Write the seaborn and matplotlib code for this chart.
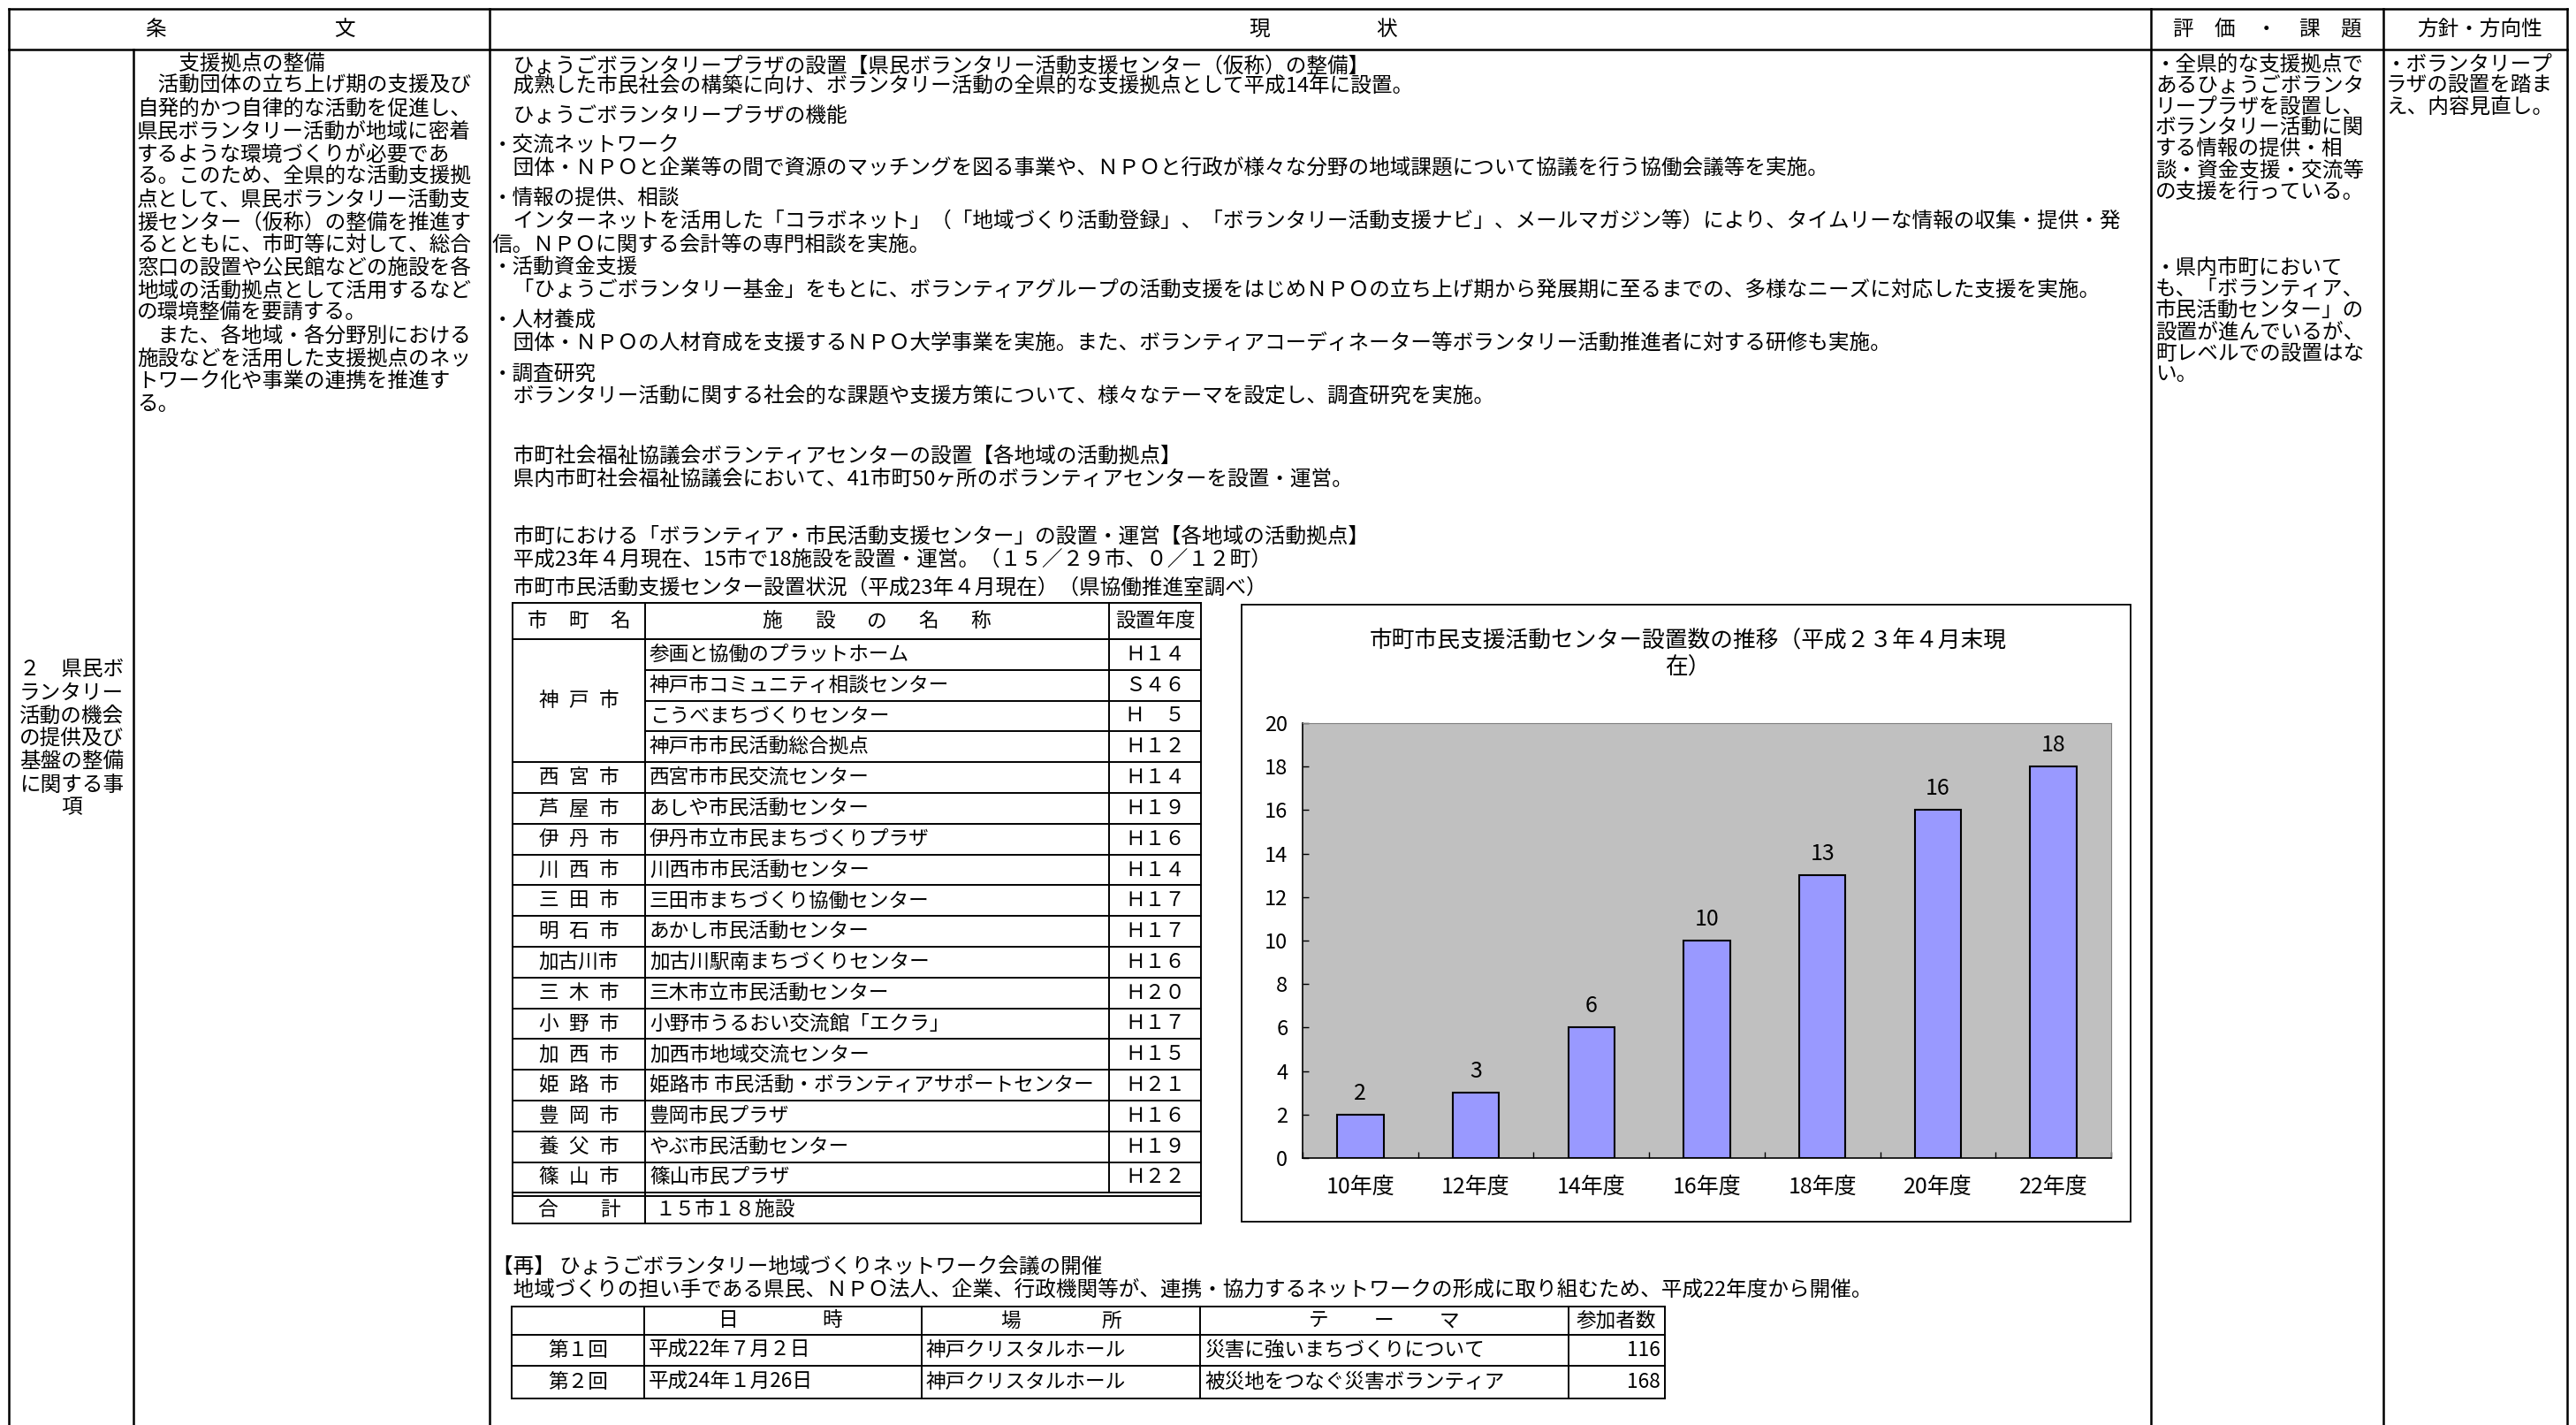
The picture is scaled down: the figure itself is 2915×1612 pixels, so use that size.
import numpy as np
import matplotlib
matplotlib.use('Agg')
import matplotlib.pyplot as plt
from matplotlib.patches import Rectangle
import seaborn as sns

plt.rcParams['font.family'] = ['Noto Sans CJK JP', 'DejaVu Sans']

W, H = 2915, 1612
FS = 17      # body text
FS_T = 16.3  # table text

# --- chart data ---
chart_years = ['10年度', '12年度', '14年度', '16年度', '18年度', '20年度', '22年度']
chart_counts = [2, 3, 6, 10, 13, 16, 18]
chart_title = ['市町市民支援活動センター設置数の推移（平成２３年４月末現', '在）']

# --- facility table ---
city_names = ['神戸市', '神戸市', '神戸市', '神戸市', '西宮市', '芦屋市', '伊丹市', '川西市', '三田市',
              '明石市', '加古川市', '三木市', '小野市', '加西市', '姫路市', '豊岡市', '養父市', '篠山市']
facility_names = ['参画と協働のプラットホーム', '神戸市コミュニティ相談センター', 'こうべまちづくりセンター',
                  '神戸市市民活動総合拠点', '西宮市市民交流センター', 'あしや市民活動センター',
                  '伊丹市立市民まちづくりプラザ', '川西市市民活動センター', '三田市まちづくり協働センター',
                  'あかし市民活動センター', '加古川駅南まちづくりセンター', '三木市立市民活動センター',
                  '小野市うるおい交流館「エクラ」', '加西市地域交流センター',
                  '姫路市 市民活動・ボランティアサポートセンター', '豊岡市民プラザ', 'やぶ市民活動センター',
                  '篠山市民プラザ']
setup_years = ['Ｈ１４', 'Ｓ４６', 'Ｈ　５', 'Ｈ１２', 'Ｈ１４', 'Ｈ１９', 'Ｈ１６', 'Ｈ１４', 'Ｈ１７',
               'Ｈ１７', 'Ｈ１６', 'Ｈ２０', 'Ｈ１７', 'Ｈ１５', 'Ｈ２１', 'Ｈ１６', 'Ｈ１９', 'Ｈ２２']
total_text = '１５市１８施設'

# --- meeting table ---
meeting_no = ['第１回', '第２回']
meeting_date = ['平成22年７月２日', '平成24年１月26日']
meeting_place = ['神戸クリスタルホール', '神戸クリスタルホール']
meeting_theme = ['災害に強いまちづくりについて', '被災地をつなぐ災害ボランティア']
meeting_people = [116, 168]

# --- document text ---
item_lines = ['２　県民ボ', 'ランタリー', '活動の機会', 'の提供及び', '基盤の整備', 'に関する事', '項']
article_lines = ['　　支援拠点の整備', '　活動団体の立ち上げ期の支援及び', '自発的かつ自律的な活動を促進し、',
                 '県民ボランタリー活動が地域に密着', 'するような環境づくりが必要であ',
                 'る。このため、全県的な活動支援拠', '点として、県民ボランタリー活動支',
                 '援センター（仮称）の整備を推進す', 'るとともに、市町等に対して、総合',
                 '窓口の設置や公民館などの施設を各', '地域の活動拠点として活用するなど',
                 'の環境整備を要請する。', '　また、各地域・各分野別における',
                 '施設などを活用した支援拠点のネッ', 'トワーク化や事業の連携を推進す', 'る。']
status_lines = [
    (75, '　ひょうごボランタリープラザの設置【県民ボランタリー活動支援センター（仮称）の整備】'),
    (97, '　成熟した市民社会の構築に向け、ボランタリー活動の全県的な支援拠点として平成14年に設置。'),
    (132, '　ひょうごボランタリープラザの機能'),
    (165, '・交流ネットワーク'),
    (190, '　団体・ＮＰＯと企業等の間で資源のマッチングを図る事業や、ＮＰＯと行政が様々な分野の地域課題について協議を行う協働会議等を実施。'),
    (225, '・情報の提供、相談'),
    (250, '　インターネットを活用した「コラボネット」（「地域づくり活動登録」、「ボランタリー活動支援ナビ」、メールマガジン等）により、タイムリーな情報の収集・提供・発'),
    (277, '信。ＮＰＯに関する会計等の専門相談を実施。'),
    (302, '・活動資金支援'),
    (328, '　「ひょうごボランタリー基金」をもとに、ボランティアグループの活動支援をはじめＮＰＯの立ち上げ期から発展期に至るまでの、多様なニーズに対応した支援を実施。'),
    (363, '・人材養成'),
    (388, '　団体・ＮＰＯの人材育成を支援するＮＰＯ大学事業を実施。また、ボランティアコーディネーター等ボランタリー活動推進者に対する研修も実施。'),
    (423, '・調査研究'),
    (448, '　ボランタリー活動に関する社会的な課題や支援方策について、様々なテーマを設定し、調査研究を実施。'),
    (516, '　市町社会福祉協議会ボランティアセンターの設置【各地域の活動拠点】'),
    (542, '　県内市町社会福祉協議会において、41市町50ヶ所のボランティアセンターを設置・運営。'),
    (607, '　市町における「ボランティア・市民活動支援センター」の設置・運営【各地域の活動拠点】'),
    (633, '　平成23年４月現在、15市で18施設を設置・運営。（１５／２９市、０／１２町）'),
    (665, '　市町市民活動支援センター設置状況（平成23年４月現在）（県協働推進室調べ）'),
    (1433, '【再】 ひょうごボランタリー地域づくりネットワーク会議の開催'),
    (1459, '　地域づくりの担い手である県民、ＮＰＯ法人、企業、行政機関等が、連携・協力するネットワークの形成に取り組むため、平成22年度から開催。'),
]
eval_block1 = ['・全県的な支援拠点で', 'あるひょうごボランタ', 'リープラザを設置し、', 'ボランタリー活動に関',
               'する情報の提供・相', '談・資金支援・交流等', 'の支援を行っている。']
eval_block2 = ['・県内市町において', 'も、「ボランティア、', '市民活動センター」の', '設置が進んでいるが、',
               '町レベルでの設置はな', 'い。']
policy_lines = ['・ボランタリープ', 'ラザの設置を踏ま', 'え、内容見直し。']

fig = plt.figure(figsize=(W / 100, H / 100), dpi=100)
doc = fig.add_axes([0, 0, 1, 1])
doc.set_xlim(0, W)
doc.set_ylim(H, 0)
doc.axis('off')


def line(x0, y0, x1, y1, lw=1.8):
    doc.plot([x0, x1], [y0, y1], color='black', lw=lw, solid_capstyle='projecting')


def txt(x, y, s, size=FS, ha='left'):
    doc.text(x, y, s, fontsize=size, ha=ha, va='center', color='black')


def spaced(chars, xc, y, pitch, size=FS):
    n = len(chars)
    for i, c in enumerate(chars):
        txt(xc + (i - (n - 1) / 2) * pitch, y, c, size, ha='center')


# outer frame
XL, XC1, XC2, XC3, XC4, XR = 10, 151, 554, 2434, 2697, 2905
YT, YH = 10, 56
line(XL, YT, XR, YT)
line(XL, YH, XR, YH)
for x in [XL, XC2, XC3, XC4, XR]:
    line(x, YT, x, H + 5)
line(XC1, YH, XC1, H + 5)

# headers
spaced(['条', '文'], 283, 33, 214)
spaced(['現', '状'], 1497, 33, 144)
spaced(['評', '価', '・', '課', '題'], 2565, 33, 47.5)
txt(2806, 33, '方針・方向性', ha='center')

# left columns
for i, s in enumerate(item_lines):
    txt(81, 758 + 26 * i, s, ha='center')
for i, s in enumerate(article_lines):
    txt(155, 72 + 25.7 * i, s)

# status column
for y, s in status_lines:
    txt(557, y, s)

# evaluation / policy columns
for i, s in enumerate(eval_block1):
    txt(2439, 73 + 24 * i, s)
for i, s in enumerate(eval_block2):
    txt(2439, 304 + 24 * i, s)
for i, s in enumerate(policy_lines):
    txt(2700, 73 + 24 * i, s)

# facility table
TX = [580, 730, 1255, 1359]
TY0, TYH, RH = 682, 723, 34.8
n_rows = len(facility_names)
TYE = TYH + RH * n_rows
TYB = 1384
TLW = 1.4
line(TX[0], TY0, TX[3], TY0, TLW)
line(TX[0], TYH, TX[3], TYH, TLW)
line(TX[0], TYE, TX[3], TYE, TLW)
line(TX[0], TYE + 4, TX[3], TYE + 4, TLW)
line(TX[0], TYB, TX[3], TYB, TLW)
line(TX[0], TY0, TX[0], TYB, TLW)
line(TX[1], TY0, TX[1], TYB, TLW)
line(TX[3], TY0, TX[3], TYB, TLW)
line(TX[2], TY0, TX[2], TYE, TLW)
for k in range(1, n_rows):
    x_start = TX[1] if city_names[k] == city_names[k - 1] else TX[0]
    line(x_start, TYH + RH * k, TX[3], TYH + RH * k, TLW)

yh = (TY0 + TYH) / 2
spaced(['市', '町', '名'], 655, yh, 47, FS_T)
spaced(['施', '設', 'の', '名', '称'], 992, yh, 59, FS_T)
txt(1307, yh, '設置年度', FS_T, ha='center')

k = 0
while k < n_rows:
    j = k
    while j + 1 < n_rows and city_names[j + 1] == city_names[k]:
        j += 1
    name = city_names[k]
    label = '\u2002'.join(name) if len(name) == 3 else name
    txt(655, TYH + RH * (k + j + 1) / 2, label, FS_T, ha='center')
    k = j + 1
for k in range(n_rows):
    yc = TYH + RH * (k + 0.5)
    txt(735, yc, facility_names[k], FS_T)
    txt(1307, yc, setup_years[k], FS_T, ha='center')
spaced(['合', '計'], 655, (TYE + 4 + TYB) / 2, 71, FS_T)
txt(741, (TYE + 4 + TYB) / 2, total_text, FS_T)

# meeting table
MX = [579, 729, 1043, 1358, 1775, 1884]
MY = [1478, 1510, 1545, 1582]
for y in MY:
    line(MX[0], y, MX[-1], y, TLW)
for x in MX:
    line(x, MY[0], x, MY[-1], TLW)
spaced(['日', '時'], 883, 1494, 118, FS_T)
spaced(['場', '所'], 1201, 1494, 114, FS_T)
spaced(['テ', 'ー', 'マ'], 1566, 1494, 74, FS_T)
txt(1829, 1494, '参加者数', FS_T, ha='center')
for r in range(len(meeting_no)):
    yc = (MY[r + 1] + MY[r + 2]) / 2
    txt(654, yc, meeting_no[r], FS_T, ha='center')
    txt(734, yc, meeting_date[r], FS_T)
    txt(1048, yc, meeting_place[r], FS_T)
    txt(1363, yc, meeting_theme[r], FS_T)
    txt(1879, yc, str(meeting_people[r]), FS_T, ha='right')

# chart frame and title
doc.add_patch(Rectangle((1405, 684), 2411 - 1405, 1382 - 684, fill=False, edgecolor='black', lw=1.3))
txt(1910, 725, chart_title[0], 18.5, ha='center')
txt(1910, 756, chart_title[1], 18.5, ha='center')

# bar chart
PX0, PX1, PY0, PY1 = 1474, 2389, 818, 1310
ax = fig.add_axes([PX0 / W, 1 - PY1 / H, (PX1 - PX0) / W, (PY1 - PY0) / H])
sns.barplot(x=chart_years, y=chart_counts, color='#9999FF', saturation=1, width=0.4,
            edgecolor='black', linewidth=1.5, ax=ax)
ax.set_facecolor('#C0C0C0')
ax.set_ylim(0, 20)
ax.set_xlim(-0.5, len(chart_years) - 0.5)
ax.set_yticks(range(0, 21, 2))
ax.set_xticks(np.arange(-0.5, len(chart_years), 1), minor=True)
ax.tick_params(axis='x', which='major', length=0, pad=14, labelsize=18)
ax.tick_params(axis='x', which='minor', direction='in', length=5, width=1)
ax.tick_params(axis='y', direction='in', length=5, width=1, pad=12, labelsize=17)
for s in ['left', 'bottom']:
    ax.spines[s].set_color('black')
    ax.spines[s].set_linewidth(1.2)
for s in ['top', 'right']:
    ax.spines[s].set_color('#808080')
    ax.spines[s].set_linewidth(0.8)
ax.bar_label(ax.containers[0], fmt='%d', padding=8, fontsize=18)
ax.set_xlabel('')
ax.set_ylabel('')

fig.savefig('out.png', dpi=100)
